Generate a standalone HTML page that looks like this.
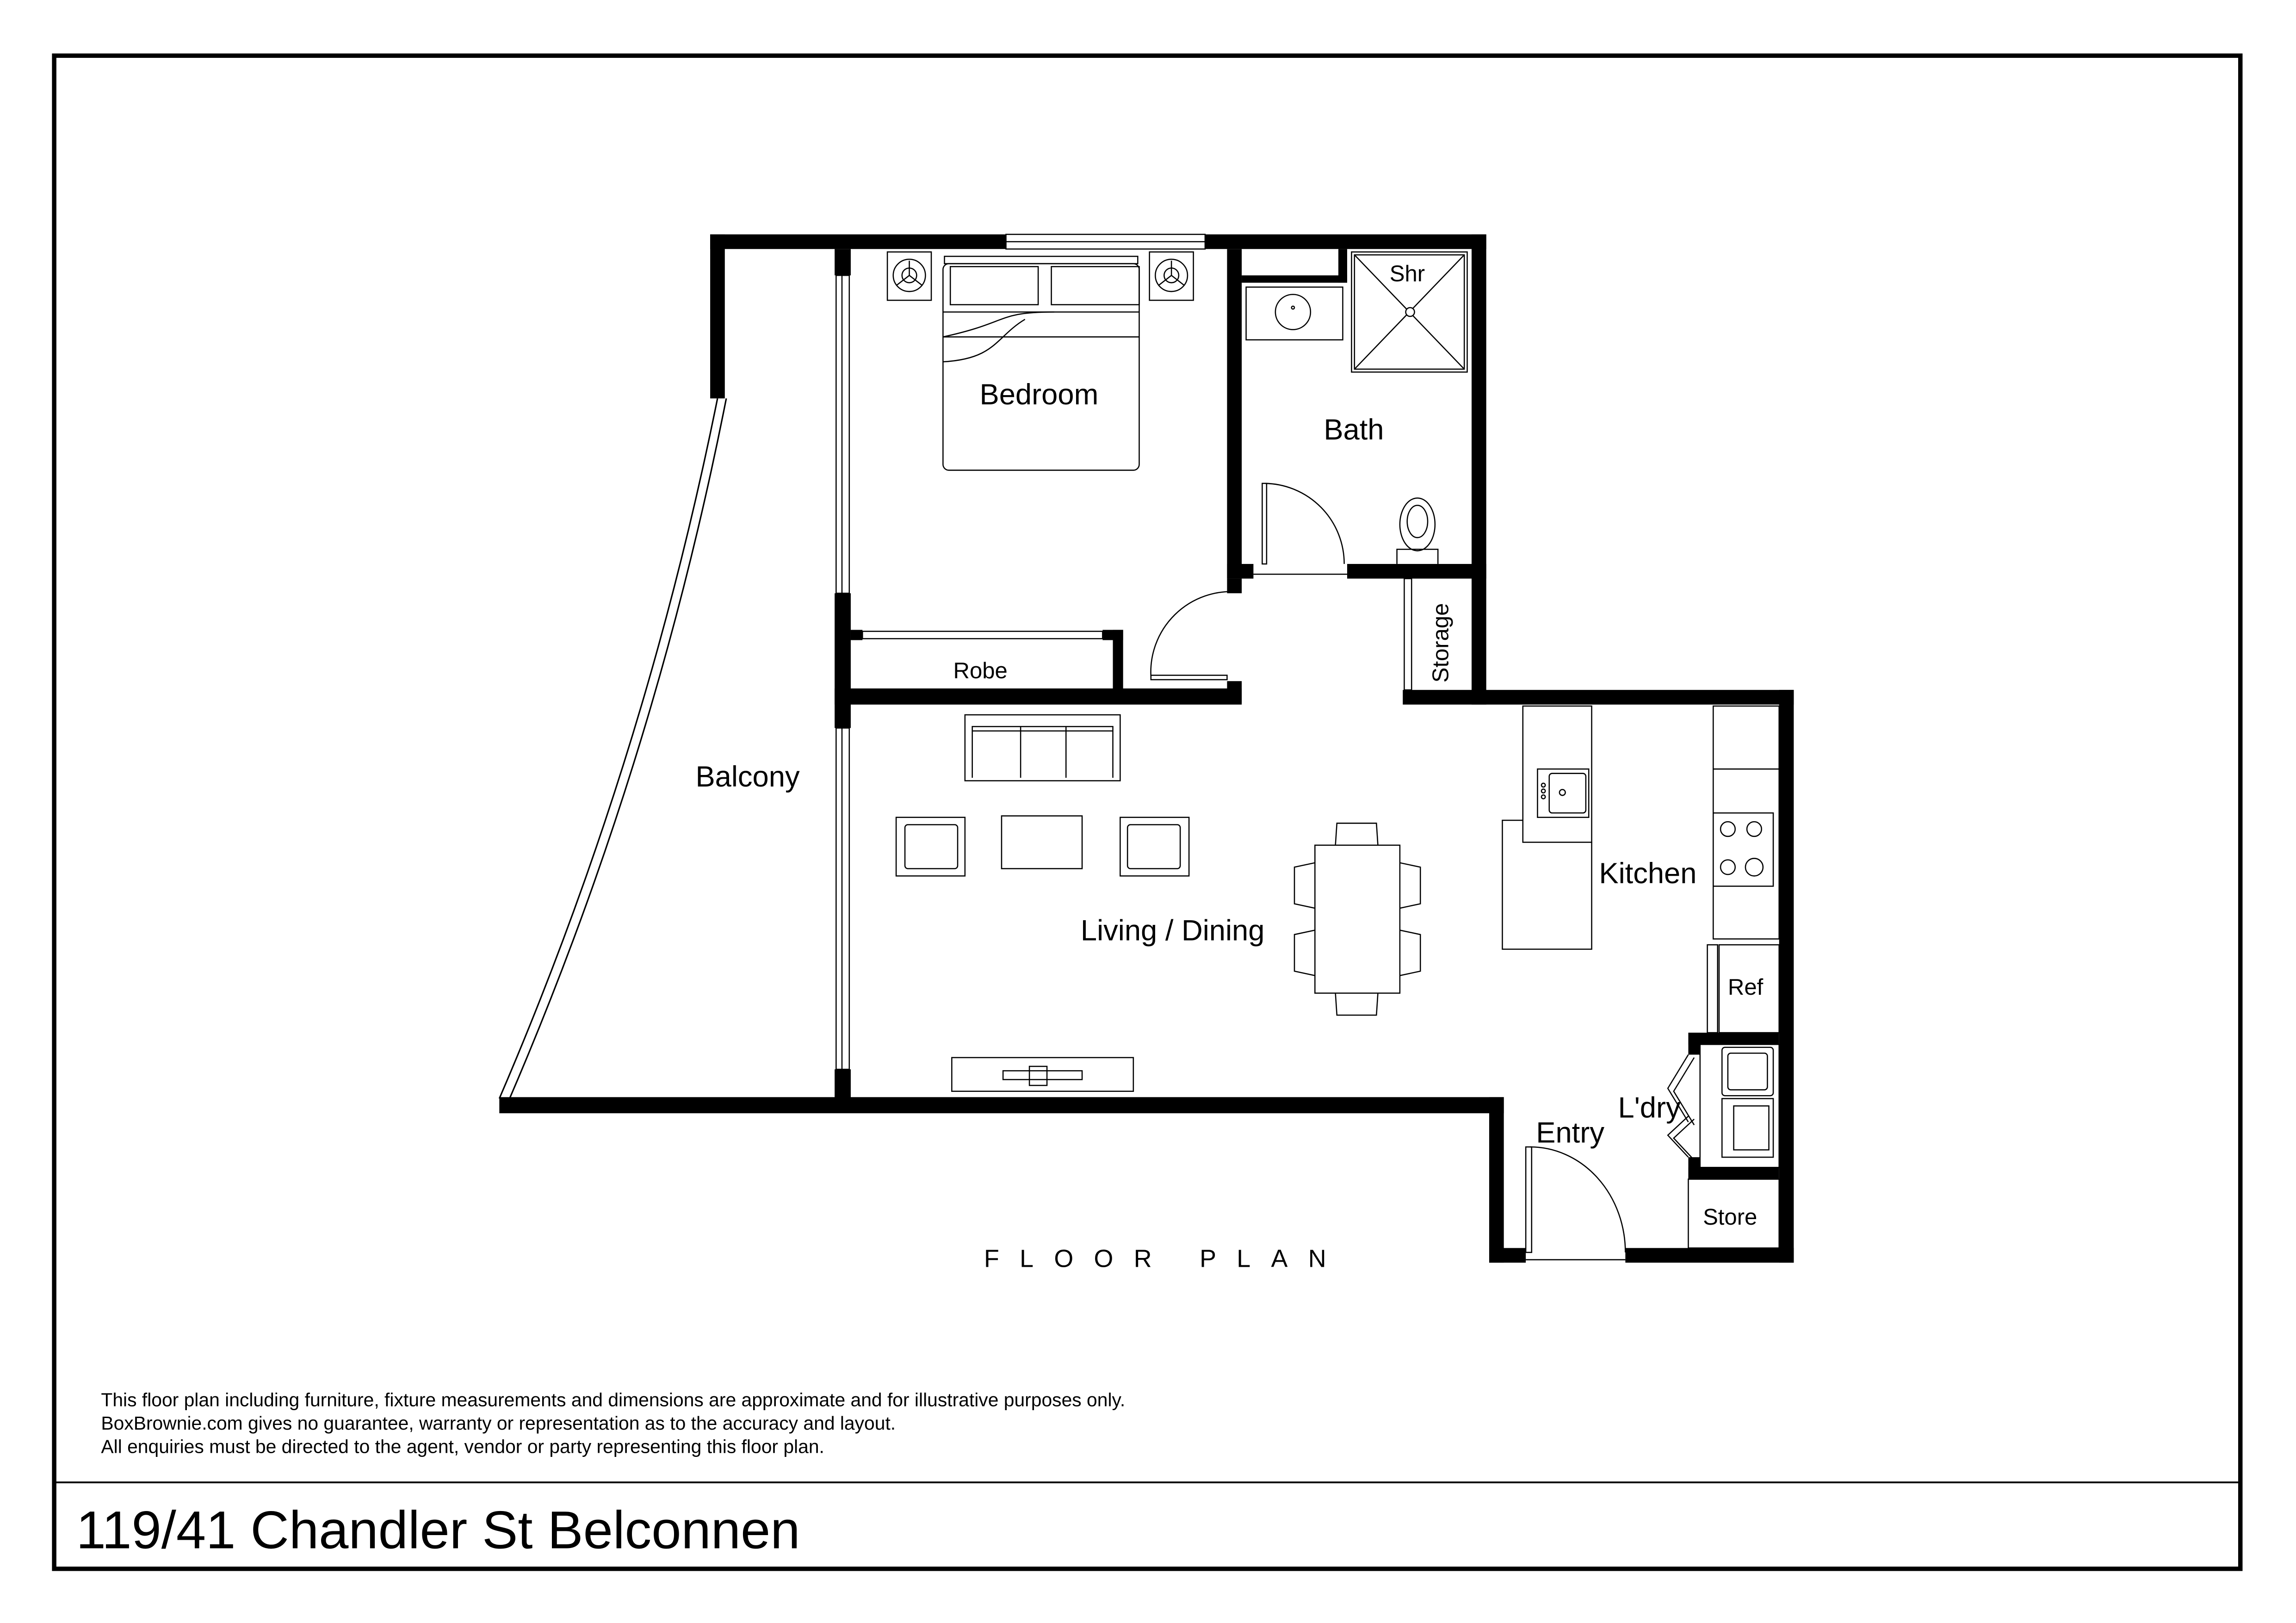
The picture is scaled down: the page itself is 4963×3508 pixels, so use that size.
<!DOCTYPE html>
<html><head><style>
html,body{margin:0;padding:0;background:#fff;}
svg{display:block;}
text{font-family:"Liberation Sans",Arial,sans-serif;fill:#000;}
</style></head><body>
<svg width="4963" height="3508" viewBox="0 0 1568 1108" preserveAspectRatio="none" xmlns="http://www.w3.org/2000/svg">
<rect x="0" y="0" width="1568" height="1108" fill="#fff"/>
<rect x="37" y="38" width="1493" height="1033" fill="none" stroke="#000" stroke-width="3"/>
<line x1="37" y1="1012" x2="1530" y2="1012" stroke="#000" stroke-width="1.2"/>

<path d="M490,272 Q440,520 341,750" fill="none" stroke="#000" stroke-width="1"/>
<path d="M496,272 Q447,520 348,750" fill="none" stroke="#000" stroke-width="1"/>

<g fill="#000">
<rect x="485" y="160" width="202" height="10"/>
<rect x="823" y="160" width="192" height="10"/>
<rect x="485" y="160" width="10" height="112"/>
<rect x="570" y="170" width="11" height="18"/>
<rect x="570" y="405" width="11" height="92"/>
<rect x="570" y="730" width="11" height="20"/>
<rect x="341" y="749" width="686" height="11"/>
<rect x="1017" y="749" width="10" height="113"/>
<rect x="1017" y="852" width="25" height="10"/>
<rect x="1110" y="852" width="115" height="10"/>
<rect x="1215" y="471" width="10" height="391"/>
<rect x="1005" y="471" width="220" height="10"/>
<rect x="1005" y="160" width="10" height="321"/>
<rect x="838" y="170" width="10" height="225"/>
<rect x="848" y="188" width="72" height="5"/>
<rect x="914" y="170" width="6" height="23"/>
<rect x="838" y="385" width="18" height="10"/>
<rect x="920" y="385" width="95" height="10"/>
<rect x="838" y="395" width="10" height="10"/>
<rect x="838" y="465" width="10" height="15"/>
<rect x="570" y="470" width="278" height="11"/>
<rect x="581" y="430" width="8" height="7"/>
<rect x="753" y="430" width="14" height="7"/>
<rect x="760" y="430" width="7" height="45"/>
<rect x="958" y="471" width="57" height="10"/>
<rect x="1153" y="705" width="62" height="8"/>
<rect x="1153" y="705" width="8" height="15"/>
<rect x="1153" y="790" width="8" height="15"/>
<rect x="1153" y="797" width="62" height="8"/>
</g>

<g fill="none" stroke="#000" stroke-width="0.8">
<rect x="687" y="160" width="136" height="10"/>
<line x1="687" y1="165" x2="823" y2="165"/>
<rect x="571" y="188" width="9" height="217"/>
<line x1="575" y1="188" x2="575" y2="405"/>
<rect x="571" y="497" width="9" height="233"/>
<line x1="575" y1="497" x2="575" y2="730"/>
<rect x="589" y="431" width="164" height="5"/>
<rect x="959" y="395" width="5" height="76"/>
<path d="M786,462 A55,55 0 0 1 845,404"/>
<rect x="786" y="461" width="52" height="3"/>
<rect x="862" y="330" width="3" height="55"/>
<path d="M864,330 A55,55 0 0 1 918,385"/>
<line x1="856" y1="392" x2="920" y2="392"/>
<rect x="1042" y="783" width="4" height="72"/>
<path d="M1045,783 A65,72 0 0 1 1110,855"/>
<line x1="1042" y1="860" x2="1110" y2="860"/>

<rect x="644" y="180" width="134" height="141" rx="4"/>
<rect x="645" y="175" width="132" height="5"/>
<rect x="649" y="182" width="60" height="26"/>
<rect x="718" y="182" width="60" height="26"/>
<line x1="644" y1="213" x2="778" y2="213"/>
<line x1="644" y1="230" x2="778" y2="230"/>
<path d="M644,230 C690,220 680,213 720,213"/>
<path d="M644,247 C680,245 680,230 700,218"/>
<rect x="606" y="172" width="30" height="33"/>
<circle cx="621" cy="188" r="11"/><circle cx="621" cy="188" r="5"/>
<path d="M621,178 L621,188 L612,195 M621,188 L630,195"/>
<rect x="785" y="172" width="30" height="33"/>
<circle cx="800" cy="188" r="11"/><circle cx="800" cy="188" r="5"/>
<path d="M800,178 L800,188 L791,195 M800,188 L809,195"/>
<rect x="851" y="196" width="66" height="36"/>
<ellipse cx="883" cy="213" rx="12" ry="12"/><circle cx="883" cy="210" r="1"/>
<rect x="923" y="172" width="79" height="82"/>
<rect x="925" y="174" width="75" height="78"/>
<path d="M925,174 L1000,252 M1000,174 L925,252"/>
<circle cx="963" cy="213" r="3" fill="#fff"/>
<ellipse cx="968" cy="358" rx="12" ry="18"/>
<ellipse cx="968" cy="356" rx="7" ry="11"/>
<path d="M954,385 L954,375 L982,375 L982,385"/>

<rect x="659" y="488" width="106" height="45"/>
<path d="M664,531 L664,496 L760,496 L760,531 M697,496 L697,531 M728,496 L728,531 M664,499 L760,499"/>
<rect x="612" y="558" width="47" height="40"/>
<rect x="618" y="563" width="36" height="30" rx="2"/>
<rect x="765" y="558" width="47" height="40"/>
<rect x="770" y="563" width="36" height="30" rx="2"/>
<rect x="684" y="557" width="55" height="36"/>
<rect x="650" y="722" width="124" height="23"/>
<rect x="685" y="731" width="54" height="6"/>
<rect x="703" y="728" width="12" height="13"/>
<rect x="898" y="577" width="58" height="101"/>
<path d="M912,577 L913,562 L940,562 L941,577"/>
<path d="M912,678 L913,693 L940,693 L941,678"/>
<path d="M898,589 L884,592 L884,617 L898,620"/>
<path d="M898,635 L884,638 L884,663 L898,666"/>
<path d="M956,589 L970,592 L970,617 L956,620"/>
<path d="M956,635 L970,638 L970,663 L956,666"/>

<rect x="1040" y="482" width="47" height="93"/>
<path d="M1040,560 L1026,560 L1026,648 L1087,648 L1087,575"/>
<rect x="1050" y="525" width="35" height="33"/>
<rect x="1058" y="528" width="25" height="27" rx="2"/>
<circle cx="1067" cy="541" r="2"/>
<circle cx="1054" cy="536" r="1.3"/><circle cx="1054" cy="540" r="1.3"/><circle cx="1054" cy="544" r="1.3"/>
<rect x="1170" y="482" width="45" height="159"/>
<line x1="1170" y1="525" x2="1215" y2="525"/>
<rect x="1170" y="555" width="41" height="50"/>
<circle cx="1180" cy="566" r="5"/><circle cx="1198" cy="566" r="5"/>
<circle cx="1180" cy="592" r="5"/><circle cx="1198" cy="592" r="6"/>
<rect x="1174" y="645" width="41" height="60"/>
<rect x="1166" y="645" width="7" height="60"/>
<rect x="1161" y="713" width="54" height="84"/>
<rect x="1176" y="715" width="35" height="33" rx="2"/>
<rect x="1180" y="719" width="27" height="25" rx="2"/>
<rect x="1176" y="750" width="35" height="40"/>
<rect x="1184" y="755" width="24" height="30"/>
<path d="M1153,720 L1139,743 L1153,766 M1157,722 L1143,745 L1157,768"/>
<path d="M1153,762 L1139,775 L1153,790 M1157,764 L1143,777 L1157,792"/>
<rect x="1153" y="805" width="62" height="47"/>
</g>

<g font-size="20">
<text x="669" y="276">Bedroom</text>
<text x="904" y="300">Bath</text>
<text x="475" y="537">Balcony</text>
<text x="738" y="642">Living / Dining</text>
<text x="1092" y="603">Kitchen</text>
<text x="1105" y="763">L'dry</text>
<text x="1049" y="780">Entry</text>
</g>
<g font-size="15.5">
<text x="949" y="192">Shr</text>
<text x="651" y="463">Robe</text>
<text x="1180" y="679">Ref</text>
<text x="1163" y="836">Store</text>
<text transform="translate(989,466) rotate(-90)">Storage</text>
</g>
<text x="672" y="865" font-size="17" letter-spacing="14">FLOOR PLAN</text>
<g font-size="12.9">
<text x="69" y="960">This floor plan including furniture, fixture measurements and dimensions are approximate and for illustrative purposes only.</text>
<text x="69" y="976">BoxBrownie.com gives no guarantee, warranty or representation as to the accuracy and layout.</text>
<text x="69" y="992">All enquiries must be directed to the agent, vendor or party representing this floor plan.</text>
</g>
<text x="52" y="1057" font-size="36.5">119/41 Chandler St Belconnen</text>
</svg>
</body></html>
